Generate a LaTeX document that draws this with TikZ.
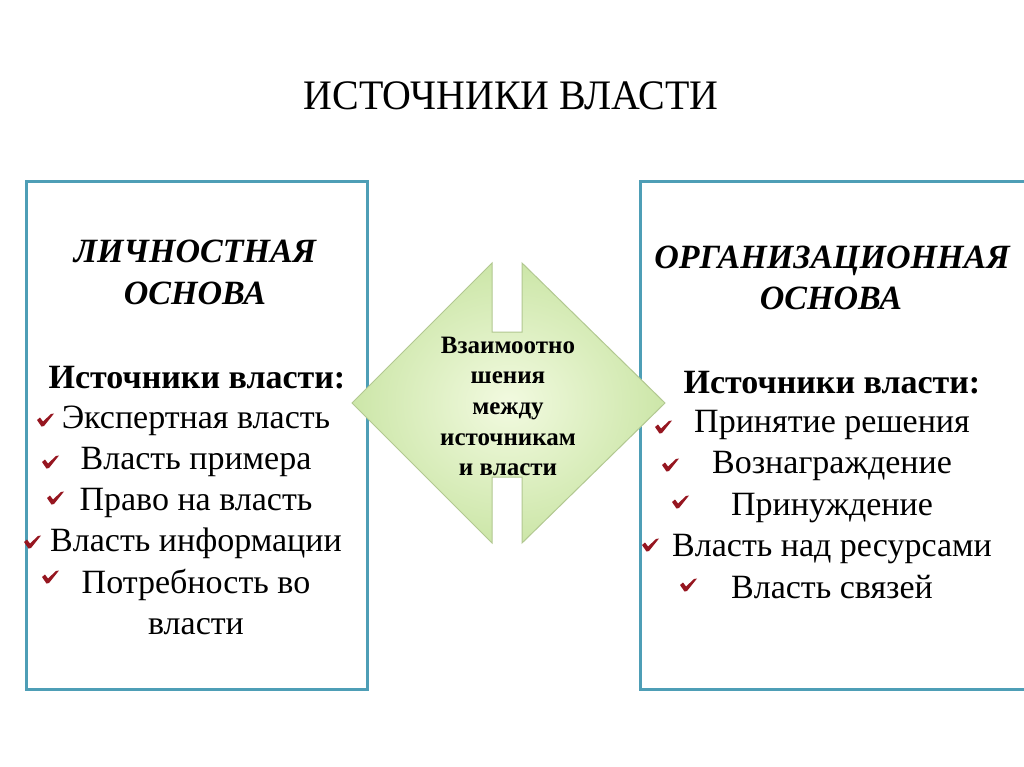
\documentclass[tikz,border=0pt]{standalone}
\usepackage{fontspec}
\setmainfont{Liberation Serif}
\newfontfamily\titlefont[FakeStretch=0.95]{Liberation Serif}
\usetikzlibrary{positioning}
\definecolor{frame}{RGB}{78,158,182}
\definecolor{tickred}{RGB}{150,22,32}
\definecolor{leaf}{RGB}{204,230,168}
\definecolor{leafin}{RGB}{242,250,224}
\definecolor{leafline}{RGB}{178,200,145}

\begin{document}
\begin{tikzpicture}[x=1pt,y=-1pt,
    box/.style={draw=frame,line width=3pt},
    head/.style={font=\fontsize{34}{40}\selectfont\bfseries\itshape,anchor=base},
    src/.style={font=\fontsize{34}{40}\selectfont\bfseries,anchor=base},
    item/.style={font=\fontsize{34}{40}\selectfont,anchor=base},
    mid/.style={font=\fontsize{25}{30}\selectfont\bfseries,anchor=base},
    diam/.style={draw=leafline,line width=1pt,inner color=leafin,outer color=leaf},
    tick/.pic={\fill[tickred] (-8,0) -- (-5,-2.5) -- (-2,1.5) -- (6,-6) -- (9,-6.5) -- (-1,6) -- (-3.5,6.5) -- cycle;}
]
    \useasboundingbox[fill=white] (0,0) rectangle (1024,767);

    \node[font=\titlefont\fontsize{42}{48}\selectfont,anchor=base] (title) at (511,110) {ИСТОЧНИКИ ВЛАСТИ};

    \draw[box] (26,182) rectangle (367,689);
    \draw[box] (640,182) rectangle (1034,689);

    \node[head] (lh1) at (195,262) {ЛИЧНОСТНАЯ};
    \node[head] (lh2) at (195,304) {ОСНОВА};
    \node[src] (ls) at (197,388) {Источники власти:};
    \foreach \t [count=\i] in {Экспертная власть, Власть примера, Право на власть,
        Власть информации, Потребность во, власти}
        \node[item] (l\i) at (196,{428+41.3*(\i-1)}) {\t};
    \foreach \p in {(45,420),(50,462),(55,498),(32,542),(50,577)}
        \pic at \p {tick};

    \node[head] (rh1) at (832,268) {ОРГАНИЗАЦИОННАЯ};
    \node[head] (rh2) at (831,309) {ОСНОВА};
    \node[src] (rs) at (832,393) {Источники власти:};
    \foreach \t [count=\i] in {Принятие решения, Вознаграждение, Принуждение,
        Власть над ресурсами, Власть связей}
        \node[item] (r\i) at (832,{432+41.5*(\i-1)}) {\t};
    \foreach \p in {(663,427),(670,465),(680,502),(650,545),(688,585)}
        \pic at \p {tick};

    \shadedraw[diam] (352,403) -- (492,263) -- (492,332) -- (522,332) -- (522,263)
        -- (665,403) -- (522,543) -- (522,477) -- (492,477) -- (492,543) -- cycle;
    \foreach \t [count=\i] in {Взаимоотно, шения, между, источникам, и власти}
        \node[mid] (m\i) at (508,{353+30.7*(\i-1)}) {\t};
\end{tikzpicture}
\end{document}
